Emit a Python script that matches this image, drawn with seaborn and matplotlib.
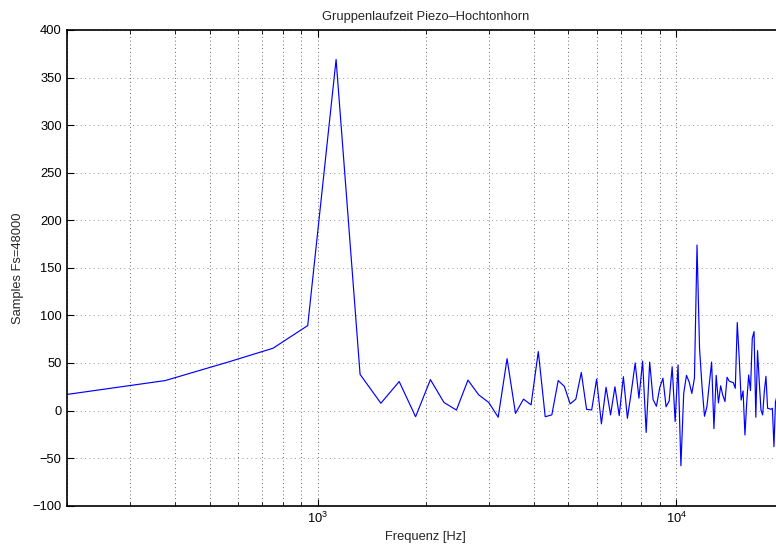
import matplotlib
matplotlib.use("Agg")
import matplotlib.pyplot as plt
import matplotlib.ticker as mtick
import numpy as np
import pandas as pd
import seaborn as sns

# FFT bin spacing for Fs=48000, N=256
bin_hz = 187.5

# group delay in samples, one value per bin (k = 1, 2, ...)
delay = [
    15.5, 31.5, 51, 65.5, 89.3, 369, 38, 7.7, 30.5, -6.5,
    32.5, 8.5, 0.5, 32, 16.5, 8.5, -7, 54.5, -3, 12,
    6, 62, -6.5, -4.5, 31.5, 25.5, 7, 12, 40, 1.3,
    0.6, 33, -14, 24.5, -4.6, 25, -5.3, 35.6, -8.1, 20,
    50, 13, 52, -23, 51, 11.5, 4.5, 24, 34, 4,
    10, 46, -11.6, 48, -58, 18, 37, 30, 18, 34,
    174, 65, 25, -6, 4, 28, 51, -19, 37, 8,
    26, 16, 9.5, 35, 31, 30, 29.4, 23.4, 92.5, 55,
    11, 20.6, -25.7, 10, 37.4, 21, 76, 83, -7, 63,
    30, 0.6, -4.6, 20, 36, 2.4, 2, 1.3, 2.4, -38,
    9.4, 15,
]

title = "Gruppenlaufzeit Piezo\u2013Hochtonhorn"
x_label = "Frequenz [Hz]"
y_label = "Samples Fs=48000"
y_ticks = list(range(-100, 401, 50))

df = pd.DataFrame({"freq": bin_hz * np.arange(1, len(delay) + 1), "delay": delay})

sns.set_style("ticks")
plt.rcParams["font.family"] = ["Liberation Sans", "DejaVu Sans"]
plt.rcParams["font.size"] = 9

fig = plt.figure(figsize=(7.76, 5.47), dpi=100)
ax = fig.add_axes([0.0867, 0.0755, 0.9236, 0.8697])

sns.lineplot(data=df, x="freq", y="delay", ax=ax, color="#0000ff", lw=0.85, estimator=None)

ax.set_xscale("log")
ax.set_xlim(200, 20000)
ax.set_ylim(-100, 400)
ax.set_yticks(y_ticks)
ax.xaxis.set_minor_locator(mtick.LogLocator(base=10, subs=np.arange(2, 10)))
ax.xaxis.set_minor_formatter(mtick.NullFormatter())

ax.grid(True, which="major", axis="y", color="0.6", linestyle=(0, (1, 3.5)), lw=0.7)
ax.grid(True, which="both", axis="x", color="0.2", linestyle=(0, (1, 3.5)), lw=0.6)

for s in ax.spines.values():
    s.set_linewidth(1.2)
    s.set_color("black")
ax.tick_params(which="both", direction="in", top=True, right=True, colors="black", labelsize=9.3)
ax.tick_params(which="major", length=5, width=0.8, pad=4)
ax.tick_params(which="minor", length=3, width=0.6)

ax.set_xlabel(x_label, fontsize=9.3, labelpad=3)
ax.set_ylabel(y_label, fontsize=9.3, labelpad=6)
ax.set_title(title, fontsize=9.3, pad=7)

plt.savefig("out.png", dpi=100)
